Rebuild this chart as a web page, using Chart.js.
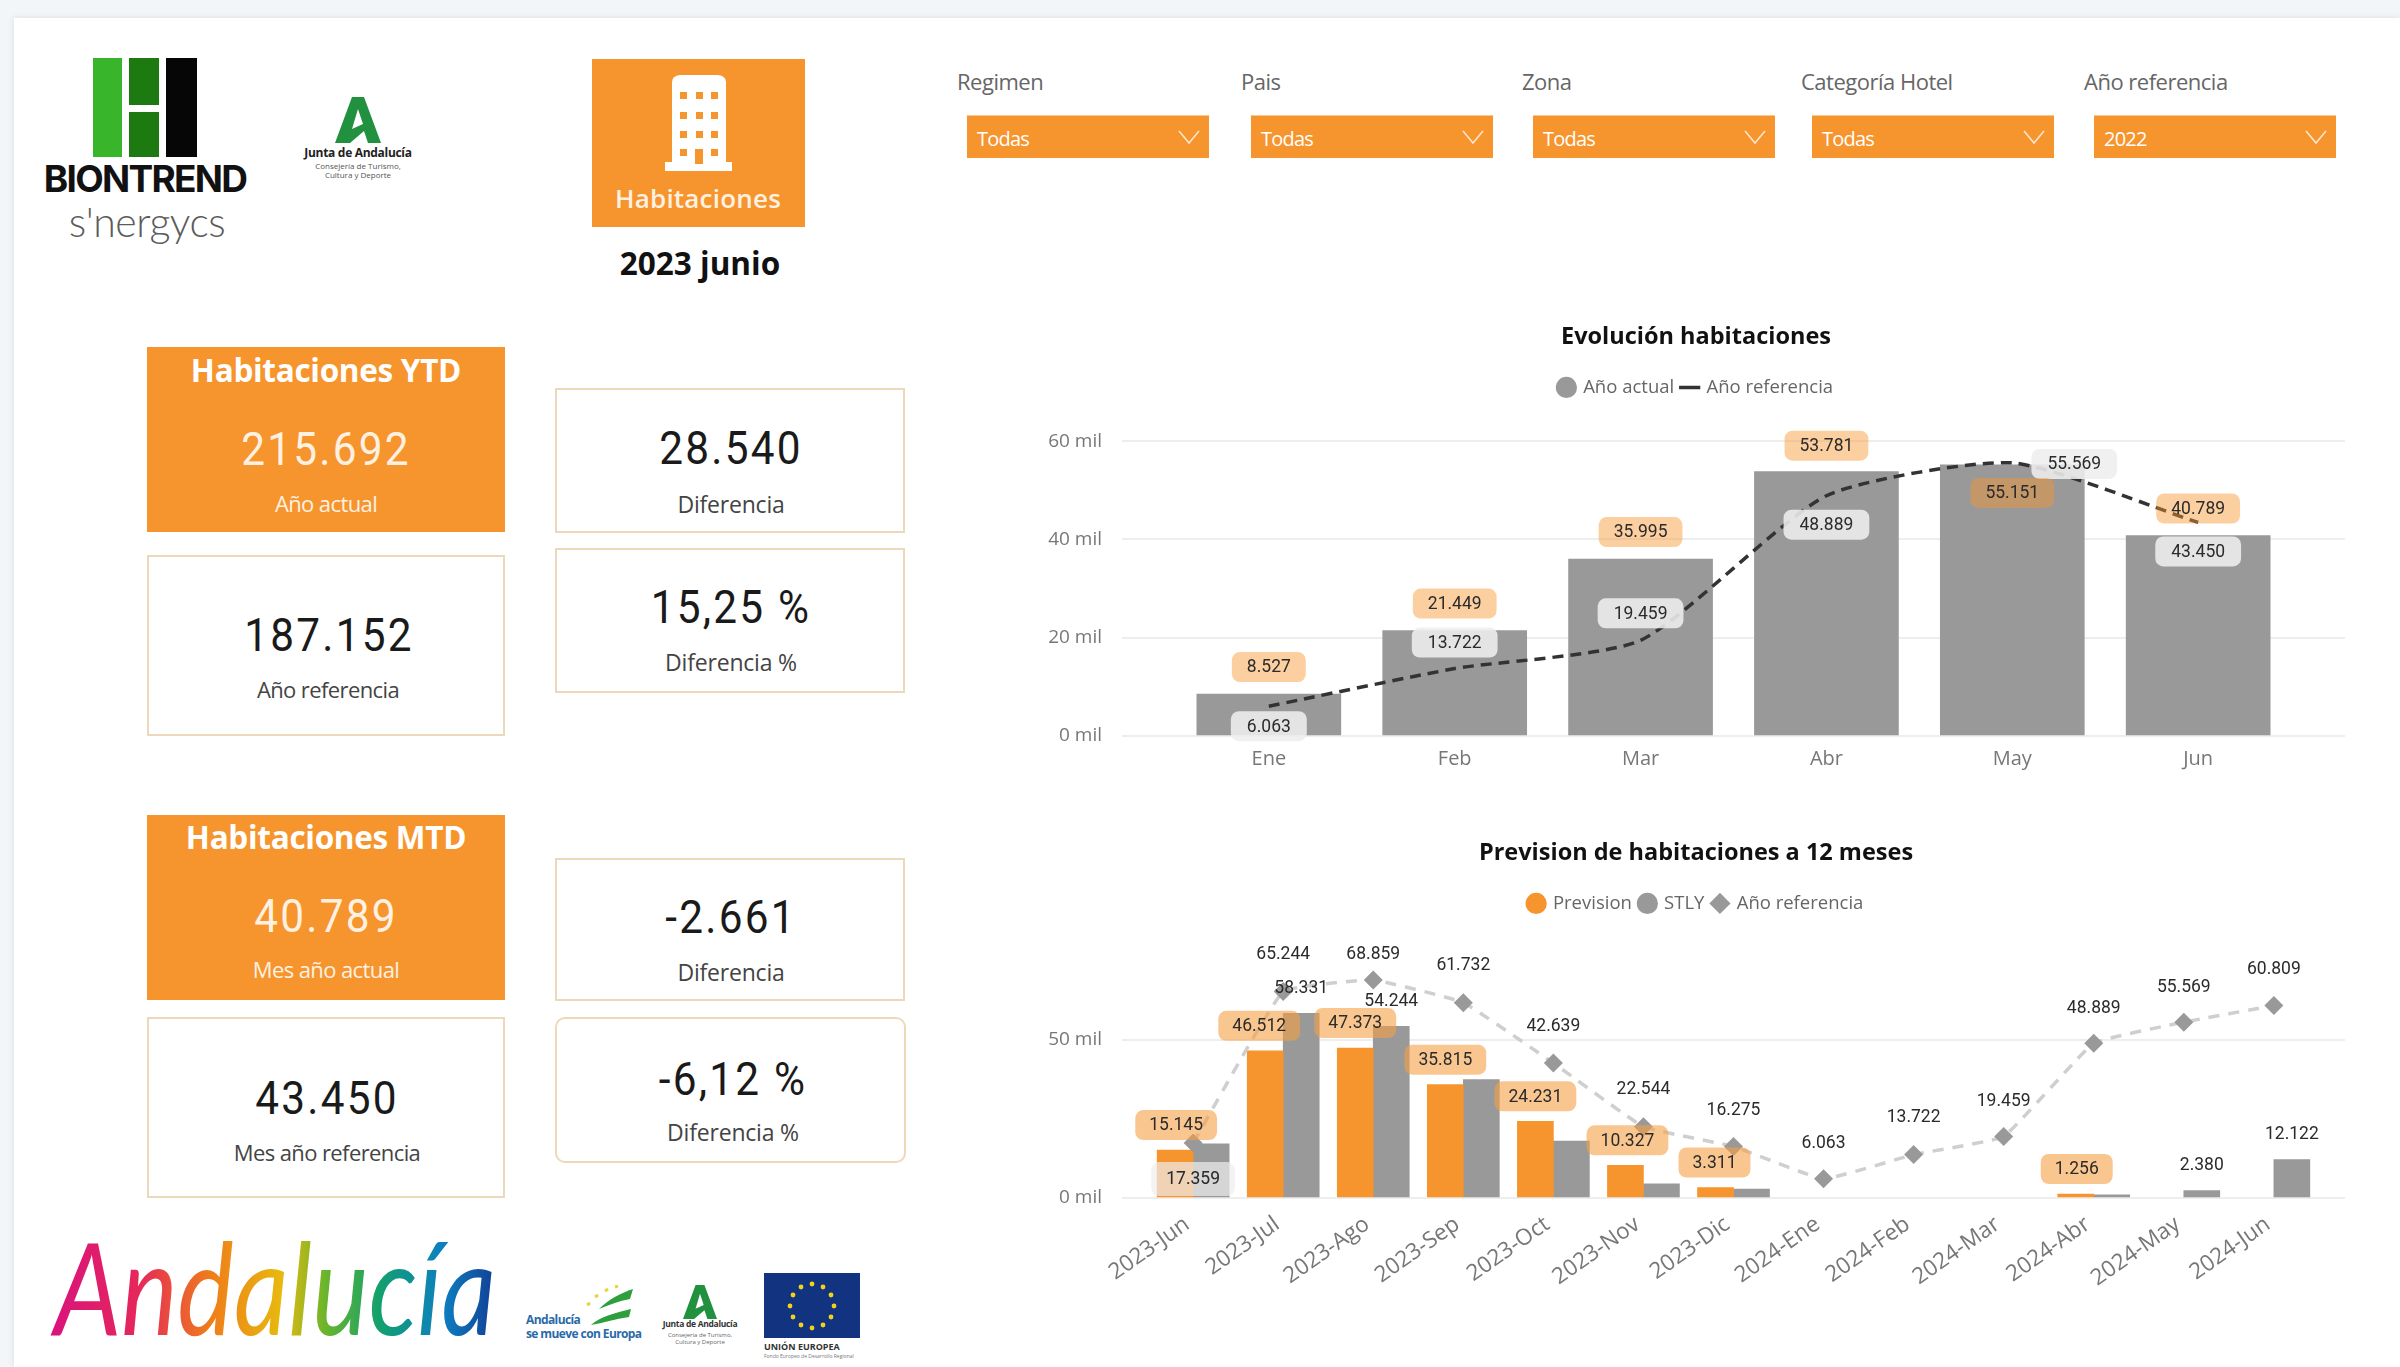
<!DOCTYPE html>
<html lang="es"><head><meta charset="utf-8">
<script src="https://cdn.jsdelivr.net/npm/chart.js@4"></script>
<style>
html,body{margin:0;padding:0;width:2400px;height:1367px;overflow:hidden;background:#f2f6f9;font-family:"Open Sans",sans-serif}
#panel{position:absolute;left:14px;top:18px;width:2386px;height:1349px;background:#fff;box-shadow:0 0 6px #d8dcdf}
.t{position:absolute;transform:translate(-50%,-50%);white-space:nowrap;line-height:1}
.box{position:absolute;box-sizing:border-box}
.org{background:#f6952d}
.card{border:2px solid #ecd9bb;background:#fff}
.val{font-family:Roboto,sans-serif;font-size:47px;letter-spacing:2.5px;color:#1a1a1a;transform:translate(-50%,-50%) scaleX(.9)}
.lab{font-size:22px;color:#444;letter-spacing:-.6px}
.lab2{font-size:23px;letter-spacing:-.2px}
.wp{color:#fff1e2}
.tit{font-weight:700;font-size:31.5px;color:#fff;letter-spacing:-.3px}
.sl{position:absolute;font-size:22px;color:#666;line-height:1;letter-spacing:-.5px;top:70px}
.dd{position:absolute;top:115px;height:43px;width:242px;background:#f6952d;color:#fff;font-size:20px;letter-spacing:-.8px;line-height:45px;padding-left:10px;box-sizing:border-box;border-top:1px solid #fbc58c}
.dd svg{position:absolute;right:9px;top:13px}
canvas{position:absolute}
</style></head><body>
<div id="panel"></div>

<!-- Biontrend logo -->
<div class="box" style="left:93px;top:58px;width:29px;height:99px;background:#38b52a"></div>
<div class="box" style="left:129px;top:58px;width:30px;height:47px;background:#1d7a10"></div>
<div class="box" style="left:129px;top:112px;width:30px;height:45px;background:#1d7a10"></div>
<div class="box" style="left:166px;top:58px;width:31px;height:99px;background:#060606"></div>
<div class="t" style="left:145px;top:178px;font-family:Inter,sans-serif;font-weight:700;font-size:37px;letter-spacing:-1.7px;color:#111">BIONTREND</div>
<div class="t" style="left:147px;top:221px;font-family:Lato,sans-serif;font-weight:300;font-size:41px;letter-spacing:-.5px;color:#5c5c5c">s'nergycs</div>

<!-- Junta de Andalucia -->
<svg class="box" style="left:335px;top:97px" width="46" height="46" viewBox="0 0 46 46"><path d="M17 0h12l17 46H33l-4-12-14 12H0z M23 12l-6 20 11-5z" fill="#21903f" fill-rule="evenodd"/></svg>
<div class="t" style="left:358px;top:153px;font-size:12px;font-weight:700;color:#222;letter-spacing:-.3px">Junta de Andalucía</div>
<div class="t" style="left:358px;top:166px;font-size:8px;color:#555">Consejería de Turismo,</div>
<div class="t" style="left:358px;top:175px;font-size:8px;color:#555">Cultura y Deporte</div>

<!-- Tile -->
<div class="box org" style="left:592px;top:59px;width:213px;height:168px"></div>
<svg class="box" style="left:664px;top:72px" width="70" height="100" viewBox="0 0 70 100">
<path d="M8 10q0-6 8-7h38q8 1 8 7v80h6v9H1v-9h7z" fill="#fff"/>
<g fill="#f6952d"><rect x="16" y="20" width="7" height="7"/><rect x="32" y="20" width="7" height="7"/><rect x="47" y="20" width="7" height="7"/><rect x="16" y="40" width="7" height="7"/><rect x="32" y="40" width="7" height="7"/><rect x="47" y="40" width="7" height="7"/><rect x="16" y="59" width="7" height="7"/><rect x="32" y="59" width="7" height="7"/><rect x="47" y="59" width="7" height="7"/><rect x="16" y="77" width="7" height="7"/><rect x="31" y="77" width="8" height="15"/><rect x="47" y="77" width="7" height="7"/></g></svg>
<div class="t wp" style="left:698px;top:198px;font-size:26px;font-weight:600;letter-spacing:.2px">Habitaciones</div>
<div class="t" style="left:700px;top:263px;font-size:31.5px;font-weight:700;color:#111">2023 junio</div>

<!-- Slicers -->
<div class="sl" style="left:957px">Regimen</div><div class="dd" style="left:967px">Todas<svg width="22" height="16" viewBox="0 0 22 16"><path d="M1 2l10 12L21 2" fill="none" stroke="#fde6cd" stroke-width="1.6"/></svg></div>
<div class="sl" style="left:1241px">Pais</div><div class="dd" style="left:1251px">Todas<svg width="22" height="16" viewBox="0 0 22 16"><path d="M1 2l10 12L21 2" fill="none" stroke="#fde6cd" stroke-width="1.6"/></svg></div>
<div class="sl" style="left:1522px">Zona</div><div class="dd" style="left:1533px">Todas<svg width="22" height="16" viewBox="0 0 22 16"><path d="M1 2l10 12L21 2" fill="none" stroke="#fde6cd" stroke-width="1.6"/></svg></div>
<div class="sl" style="left:1801px">Categoría Hotel</div><div class="dd" style="left:1812px">Todas<svg width="22" height="16" viewBox="0 0 22 16"><path d="M1 2l10 12L21 2" fill="none" stroke="#fde6cd" stroke-width="1.6"/></svg></div>
<div class="sl" style="left:2084px">Año referencia</div><div class="dd" style="left:2094px">2022<svg width="22" height="16" viewBox="0 0 22 16"><path d="M1 2l10 12L21 2" fill="none" stroke="#fde6cd" stroke-width="1.6"/></svg></div>

<!-- KPI YTD -->
<div class="box org" style="left:147px;top:347px;width:358px;height:185px"></div>
<div class="t tit" style="left:326px;top:370px">Habitaciones YTD</div>
<div class="t val wp" style="left:326px;top:448px">215.692</div>
<div class="t lab wp" style="left:326px;top:503px">Año actual</div>
<div class="box card" style="left:147px;top:555px;width:358px;height:181px"></div>
<div class="t val" style="left:329px;top:634px">187.152</div>
<div class="t lab" style="left:328px;top:689px">Año referencia</div>
<div class="box card" style="left:555px;top:388px;width:350px;height:145px"></div>
<div class="t val" style="left:731px;top:447px">28.540</div>
<div class="t lab lab2" style="left:731px;top:504px">Diferencia</div>
<div class="box card" style="left:555px;top:548px;width:350px;height:145px"></div>
<div class="t val" style="left:731px;top:606px">15,25 %</div>
<div class="t lab lab2" style="left:731px;top:662px">Diferencia %</div>

<!-- KPI MTD -->
<div class="box org" style="left:147px;top:815px;width:358px;height:185px"></div>
<div class="t tit" style="left:326px;top:837px">Habitaciones MTD</div>
<div class="t val wp" style="left:326px;top:915px">40.789</div>
<div class="t lab wp" style="left:326px;top:969px">Mes año actual</div>
<div class="box card" style="left:147px;top:1017px;width:358px;height:181px"></div>
<div class="t val" style="left:327px;top:1097px">43.450</div>
<div class="t lab" style="left:327px;top:1152px">Mes año referencia</div>
<div class="box card" style="left:555px;top:858px;width:350px;height:143px"></div>
<div class="t val" style="left:731px;top:916px">-2.661</div>
<div class="t lab lab2" style="left:731px;top:972px">Diferencia</div>
<div class="box card" style="left:555px;top:1017px;width:351px;height:146px;border-radius:10px"></div>
<div class="t val" style="left:733px;top:1078px">-6,12 %</div>
<div class="t lab lab2" style="left:733px;top:1132px">Diferencia %</div>

<!-- Footer logos -->
<svg class="box" style="left:40px;top:1220px;overflow:visible" width="470" height="140">
<defs><linearGradient id="gr" x1="0" x2="1" y1="0" y2="0">
<stop offset="0" stop-color="#d9127e"/><stop offset=".2" stop-color="#e5285a"/><stop offset=".36" stop-color="#ef7d1a"/><stop offset=".52" stop-color="#e8b90e"/><stop offset=".62" stop-color="#67b52c"/><stop offset=".74" stop-color="#12a06e"/><stop offset=".88" stop-color="#0d7fc0"/><stop offset="1" stop-color="#123f96"/></linearGradient></defs>
<text x="14" y="115" font-family="Lato" font-style="italic" font-weight="400" font-size="128" textLength="442" lengthAdjust="spacingAndGlyphs" fill="url(#gr)">Andalucía</text></svg>
<svg class="box" style="left:585px;top:1285px" width="50" height="42" viewBox="0 0 50 42"><path d="M6 40C14 32 30 28 46 24l-2 8C30 34 18 38 6 40z M14 24C24 14 36 8 48 4l-3 10C34 16 24 20 14 24z" fill="#2e9e3e"/><path d="M2 20l3-2M10 12l3-2M20 6l3-2M30 2l3-1" stroke="#e9d33c" stroke-width="3"/></svg>
<div class="box" style="left:526px;top:1313px;font-size:12px;line-height:14px;font-weight:700;color:#2a6aa8;letter-spacing:-.6px;white-space:nowrap">Andalucía<br>se mueve con Europa</div>
<svg class="box" style="left:683px;top:1285px" width="34" height="34" viewBox="0 0 46 46"><path d="M17 0h12l17 46H33l-4-12-14 12H0z M23 12l-6 20 11-5z" fill="#21903f" fill-rule="evenodd"/></svg>
<div class="t" style="left:700px;top:1324px;font-size:8.5px;font-weight:700;color:#333;letter-spacing:-.3px">Junta de Andalucía</div>
<div class="t" style="left:700px;top:1335px;font-size:6px;color:#666">Consejería de Turismo,</div>
<div class="t" style="left:700px;top:1342px;font-size:6px;color:#666">Cultura y Deporte</div>
<svg class="box" style="left:764px;top:1273px" width="96" height="65" viewBox="0 0 96 65"><rect width="96" height="65" fill="#12337f"/><g fill="#f3d21a"><circle cx="48" cy="11" r="2.4"/><circle cx="59" cy="14" r="2.4"/><circle cx="67" cy="22" r="2.4"/><circle cx="70" cy="33" r="2.4"/><circle cx="67" cy="44" r="2.4"/><circle cx="59" cy="52" r="2.4"/><circle cx="48" cy="55" r="2.4"/><circle cx="37" cy="52" r="2.4"/><circle cx="29" cy="44" r="2.4"/><circle cx="26" cy="33" r="2.4"/><circle cx="29" cy="22" r="2.4"/><circle cx="37" cy="14" r="2.4"/></g></svg>
<div class="box" style="left:764px;top:1340px;font-size:9px;font-weight:700;color:#333;white-space:nowrap">UNIÓN EUROPEA</div>
<div class="box" style="left:764px;top:1353px;font-size:5px;color:#777;white-space:nowrap">Fondo Europeo de Desarrollo Regional</div>

<canvas id="c1" style="left:1047px;top:310px" width="1298" height="481"></canvas>
<canvas id="c2" style="left:1047px;top:830px" width="1298" height="490"></canvas>

<script>
// ---- data ----
const meses = ['Ene','Feb','Mar','Abr','May','Jun'];
const anoActual = [8527,21449,35995,53781,55151,40789];
const anoReferencia = [6063,13722,19459,48889,55569,43450];
const ticksEvolucion = [0,20000,40000,60000];

const meses12 = ['2023-Jun','2023-Jul','2023-Ago','2023-Sep','2023-Oct','2023-Nov','2023-Dic','2024-Ene','2024-Feb','2024-Mar','2024-Abr','2024-May','2024-Jun'];
const prevision = [15145,46512,47373,35815,24231,10327,3311,null,null,null,1256,null,null];
const stly = [17100,58331,54244,37400,18000,4500,2850,null,null,null,1000,2380,12122];
const referencia12 = [17359,65244,68859,61732,42639,22544,16275,6063,13722,19459,48889,55569,60809];
const ticksPrevision = [0,50000];

// ---- label placement (pixel offsets from each mark) ----
const dyActual = [-27,-27,-27,-26,28,-27];
const dyRef = [20,-26,-27,29,1,29];
const dxRef = [0,0,0,0,62,0];
const dxPrev = [1,-6,0,0,0,2,-1,0,0,0,1,0,0];
const dyRef12 = [36,-38,-26,-38,-37,-38,-37,-36,-38,-36,-36,-36,-37];
const stlyShown = [false,true,true,false,false,false,false,false,false,false,false,true,true];

const ORANGE='#f6952d', GREY='#999999', TXT='#666666', GRID='#eeeeee';
const FONT='"Open Sans",sans-serif';
const EDGE=0.29;

class PaddedCategory extends Chart.CategoryScale{
  buildTicks(){const t=super.buildTicks();this._startValue-=EDGE;this._valueRange+=2*EDGE;return t;}
}
PaddedCategory.id='paddedCategory';
PaddedCategory.defaults=Chart.CategoryScale.defaults;
Chart.register(PaddedCategory);

const fmt=v=>String(v).replace(/\B(?=(\d{3})+(?!\d))/g,'.');

const boxLabels={id:'boxLabels',afterDatasetsDraw(chart,args,opts){
  const c=chart.ctx;
  for(const s of opts.sets){
    const meta=chart.getDatasetMeta(s.ds), vals=chart.data.datasets[s.ds].data;
    meta.data.forEach((el,i)=>{
      if(vals[i]==null||(s.shown&&!s.shown[i]))return;
      const x=el.x+(s.dx?s.dx[i]:0), y=el.y+(s.dy?s.dy[i]:s.dyAll);
      c.save();
      c.font='17.5px Roboto, sans-serif';
      const txt=fmt(vals[i]), w=c.measureText(txt).width+(s.padX||30), h=s.h||30;
      if(s.bg){c.fillStyle=s.bg;c.beginPath();c.roundRect(x-w/2,y-h/2,w,h,8);c.fill();}
      c.fillStyle='#2b2b2b';c.textAlign='center';c.textBaseline='middle';
      c.fillText(txt,x,y+1);
      c.restore();
    });
  }
}};
Chart.register(boxLabels);

const xScale=(rot,height,size)=>({type:'paddedCategory',offset:true,grid:{display:false},border:{display:false},
  afterFit(s){s.height=height;},
  ticks:{color:'#777',font:{family:FONT,size},autoSkip:false,minRotation:rot,maxRotation:rot,padding:rot?5:3,labelOffset:rot?-6:0}});
const yScale=(max,tickValues)=>({min:0,max,grid:{color:GRID,lineWidth:2,drawTicks:false},border:{display:false},
  afterFit(s){s.width=75;},
  afterBuildTicks(s){s.ticks=tickValues.map(value=>({value}));},
  ticks:{padding:20,color:'#777',font:{family:FONT,size:19},callback:v=>(v/1000)+' mil'}});
const titleOf=(text,top,bottom)=>({display:true,text,color:'#111',font:{family:FONT,size:23.5,weight:'700'},padding:{top,bottom}});
const legendOf=()=>({display:true,position:'top',labels:{usePointStyle:true,boxWidth:15,boxHeight:15,padding:8,color:TXT,font:{family:FONT,size:18.5},sort:(a,b)=>a.datasetIndex-b.datasetIndex}});

new Chart(document.getElementById('c1'),{
  data:{labels:meses,datasets:[
    {type:'bar',label:'Año actual',data:anoActual,backgroundColor:GREY,barThickness:144,order:2,pointStyle:'circle'},
    {type:'line',label:'Año referencia',data:anoReferencia,borderColor:'#333',backgroundColor:'#333',borderWidth:3.5,borderDash:[11,7],pointRadius:0,pointStyle:'line',tension:0.2,order:1}
  ]},
  options:{responsive:false,animation:false,layout:{padding:0,autoPadding:false},
    scales:{x:xScale(0,55,20),y:yScale(67000,ticksEvolucion)},
    plugins:{title:titleOf('Evolución habitaciones',13,19),legend:legendOf(),tooltip:{enabled:false},
      boxLabels:{sets:[
        {ds:1,dx:dxRef,dy:dyRef,bg:'rgba(238,238,238,.88)',padX:32},
        {ds:0,dy:dyActual,bg:'rgba(247,149,43,.45)',padX:30}
      ]}}}
});

new Chart(document.getElementById('c2'),{
  data:{labels:meses12,datasets:[
    {type:'bar',label:'Prevision',data:prevision,backgroundColor:ORANGE,barThickness:36,order:3,pointStyle:'circle'},
    {type:'bar',label:'STLY',data:stly,backgroundColor:GREY,barThickness:36,order:3,pointStyle:'circle'},
    {type:'line',label:'Año referencia',data:referencia12,borderColor:'#cfcfcf',backgroundColor:'#9a9a9a',borderWidth:3.5,borderDash:[11,9],pointRadius:9.5,pointHoverRadius:9.5,pointStyle:'rectRot',pointBackgroundColor:'#999',pointBorderColor:'#999',pointBorderWidth:0,tension:0.1,order:1}
  ]},
  options:{responsive:false,animation:false,layout:{padding:0,autoPadding:false},
    scales:{x:xScale(35,122,22.5),y:yScale(87000,ticksPrevision)},
    plugins:{title:titleOf('Prevision de habitaciones a 12 meses',9,19),legend:legendOf(),tooltip:{enabled:false},
      boxLabels:{sets:[
        {ds:2,dy:dyRef12,bg:null},
        {ds:1,dyAll:-26,shown:stlyShown,bg:null},
        {ds:2,dy:dyRef12,shown:[true],bg:'rgba(238,238,238,.7)',padX:30,h:34},
        {ds:0,dx:dxPrev,dyAll:-25,bg:'rgba(245,160,70,.6)',padX:28,h:30}
      ]}}}
});
</script>
</body></html>
